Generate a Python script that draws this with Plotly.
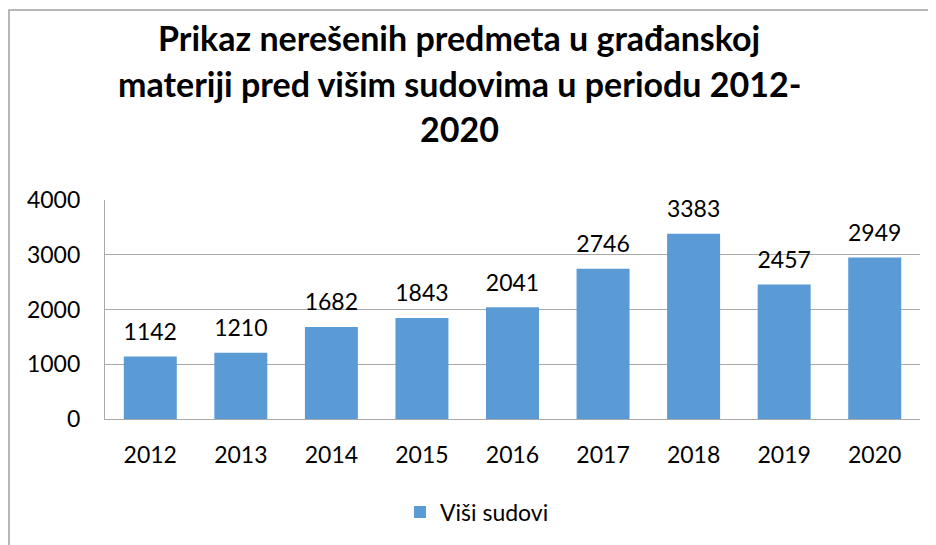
import plotly.graph_objects as go

years = ["2012", "2013", "2014", "2015", "2016", "2017", "2018", "2019", "2020"]
cases = [1142, 1210, 1682, 1843, 2041, 2746, 3383, 2457, 2949]
series_name = "Viši sudovi"
title_lines = ["Prikaz nerešenih predmeta u građanskoj",
               "materiji pred višim sudovima u periodu 2012-",
               "2020"]
y_ticks = [0, 1000, 2000, 3000, 4000]

W, H = 936, 545
OFF = 8  # page body margin
L, R, T, B = 105 - OFF, 24, 200 - OFF, 134
PW, PH = W - L - R, H - T - B

def px(x):
    return (x - OFF - L) / PW

def py(y):
    return (H - B - (y - OFF)) / PH

FONT = "Lato"
GRID = "#a9a9a9"

fig = go.Figure()
fig.add_trace(go.Bar(
    x=years, y=cases, name=series_name,
    marker=dict(color="#5b9bd5", line=dict(width=0)),
    showlegend=True,
))

# data labels, placed above each bar via an invisible marker
fig.add_trace(go.Scatter(
    x=years, y=cases, mode="markers+text", text=[str(v) for v in cases],
    textposition="top center",
    marker=dict(size=16, opacity=0),
    textfont=dict(family=FONT, size=23, color="#000000"),
    showlegend=False, hoverinfo="skip", cliponaxis=False,
))

title_y = [38, 83, 128]
for line, yy in zip(title_lines, title_y):
    fig.add_annotation(x=px(459), y=py(yy), xref="paper", yref="paper",
                       text="<b>" + line + "</b>", showarrow=False,
                       xanchor="center", yanchor="middle",
                       font=dict(family=FONT, size=34, color="#000000"))

# chart border (top and left edges visible)
fig.add_shape(type="path", xref="paper", yref="paper",
              path=f"M {px(9)} {py(560)} L {px(9)} {py(10)} L {px(950)} {py(10)}",
              line=dict(color="#a0a0a0", width=1.5))

fig.update_layout(
    width=W, height=H,
    margin=dict(l=L, r=R, t=T, b=B, autoexpand=False),
    paper_bgcolor="white", plot_bgcolor="white",
    bargap=0.415,
    font=dict(family=FONT, size=23, color="#000000"),
    legend=dict(orientation="h", x=px(477), xanchor="center",
                y=py(512), yanchor="middle",
                font=dict(family=FONT, size=23, color="#000000"),
                itemwidth=30),
    xaxis=dict(type="category", range=[-0.5, len(years) - 0.5],
               showline=True, linecolor=GRID, linewidth=1.3,
               ticks="", showgrid=False, ticklabelstandoff=15,
               tickfont=dict(family=FONT, size=23)),
    yaxis=dict(range=[0, 4000], tickvals=y_ticks, showgrid=True,
               gridcolor=GRID, gridwidth=1.3, showline=True, linecolor=GRID,
               linewidth=1.3, ticks="", zeroline=False,
               ticklabelstandoff=19,
               tickfont=dict(family=FONT, size=23)),
)

fig.write_html("out.html")
